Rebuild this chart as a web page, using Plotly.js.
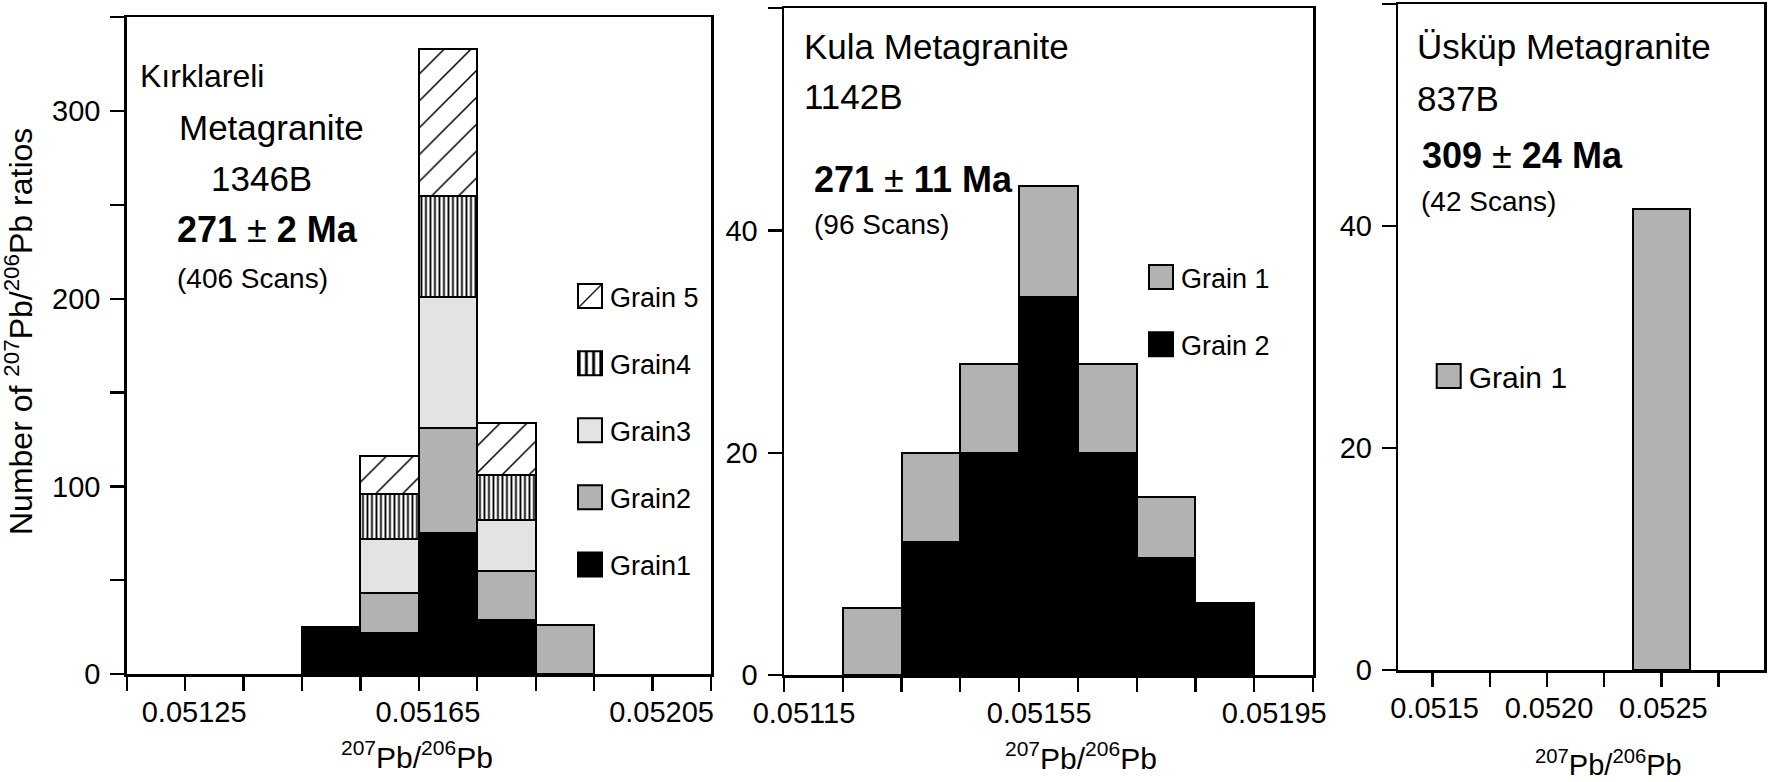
<!DOCTYPE html>
<html><head><meta charset="utf-8">
<script src="https://cdn.plot.ly/plotly-3.0.1.min.js"></script>
<style>html,body{margin:0;padding:0;background:#fff}#chart{width:1770px;height:782px}</style>
</head><body><div id="chart"></div>
<script>
// ---------------- data ----------------
// Panel 1: Kırklareli Metagranite 1346B (stacked counts per 207Pb/206Pb bin)
const p1Bins   = [0.0515, 0.0516, 0.0517, 0.0518, 0.0519];
const p1Grain1 = [25, 22, 75, 29, null];
const p1Grain2 = [null, 21, 56, 26, 26];
const p1Grain3 = [null, 29, 70, 27, null];
const p1Grain4 = [null, 24, 54, 24, null];
const p1Grain5 = [null, 20, 78, 28, null];
const p1Names  = ['Grain1', 'Grain2', 'Grain3', 'Grain4', 'Grain 5'];
const p1XTickVals = [0.05115, 0.05125, 0.05135, 0.05145, 0.05155, 0.05165, 0.05175, 0.05185, 0.05195, 0.05205, 0.05215];
const p1XTickText = ['', '0.05125', '', '', '', '0.05165', '', '', '', '0.05205', ''];
const p1YTickVals = [0, 50, 100, 150, 200, 250, 300, 350];
const p1YTickText = ['0', '', '100', '', '200', '', '300', ''];

// Panel 2: Kula Metagranite 1142B
const p2Bins   = [0.0513, 0.0514, 0.0515, 0.0516, 0.0517, 0.0518, 0.0519];
const p2Grain2 = [null, 12, 20, 34, 20, 10.5, 6.5];
const p2Grain1 = [6, 8, 8, 10, 8, 5.5, null];
const p2Names  = ['Grain 1', 'Grain 2'];
const p2XTickVals = [0.05115, 0.05125, 0.05135, 0.05145, 0.05155, 0.05165, 0.05175, 0.05185, 0.05195, 0.05205];
const p2XTickText = ['0.05115', '', '', '', '0.05155', '', '', '', '0.05195', ''];
const p2YTickVals = [0, 20, 40, 60];
const p2YTickText = ['0', '20', '40', ''];

// Panel 3: Üsküp Metagranite 837B
const p3Bins   = [0.0525];
const p3Grain1 = [41.5];
const p3Names  = ['Grain 1'];
const p3XTickVals = [0.0515, 0.05175, 0.0520, 0.05225, 0.0525, 0.05275];
const p3XTickText = ['0.0515', '', '0.0520', '', '0.0525', ''];
const p3YTickVals = [0, 20, 40, 60];
const p3YTickText = ['0', '20', '40', ''];

// ---------------- styling ----------------
const W = 1770, H = 782;
const FONT = 'Liberation Sans, Arial, sans-serif';
const GRAY = '#b2b2b2', LIGHT = '#e3e3e3', BLACK = '#000000';
const edge = {color: '#000', width: 2};

function bar(x, y, name, xa, ya, leg, rank, marker, bw) {
  return {type: 'bar', x: x, y: y, name: name, xaxis: xa, yaxis: ya, legend: leg, legendrank: rank,
          legendgroup: leg + name, width: bw, marker: Object.assign({line: edge}, marker),
          hoverinfo: 'skip'};
}
const solid = c => ({color: c});
const hatch = (shape, size, sol) => ({color: '#fff', pattern: {shape: shape, fgcolor: '#000', bgcolor: '#fff', size: size, solidity: sol, fillmode: 'replace'}});

const traces = [
  bar(p1Bins, p1Grain1, p1Names[0], 'x', 'y', 'legend', 5, solid(BLACK), 0.0001),
  bar(p1Bins, p1Grain2, p1Names[1], 'x', 'y', 'legend', 4, solid(GRAY), 0.0001),
  bar(p1Bins, p1Grain3, p1Names[2], 'x', 'y', 'legend', 3, solid(LIGHT), 0.0001),
  bar(p1Bins, p1Grain4, p1Names[3], 'x', 'y', 'legend', 2, hatch('|', 4.5, 0.4), 0.0001),
  bar(p1Bins, p1Grain5, p1Names[4], 'x', 'y', 'legend', 1, hatch('/', 19, 0.08), 0.0001),
  bar(p2Bins, p2Grain2, p2Names[1], 'x2', 'y2', 'legend2', 2, solid(BLACK), 0.0001),
  bar(p2Bins, p2Grain1, p2Names[0], 'x2', 'y2', 'legend2', 1, solid(GRAY), 0.0001),
  bar(p3Bins, p3Grain1, p3Names[0], 'x3', 'y3', 'legend3', 1, solid(GRAY), 0.00025)
];

function xAxis(l, r, range, tv, tt, anchor, shift) {
  return {domain: [l / W, r / W], range: range, anchor: anchor, tickmode: 'array', tickvals: tv, ticktext: tt,
          ticks: 'outside', ticklen: 14, tickwidth: 2.3, tickcolor: '#000', showline: true, mirror: true,
          linewidth: 2.5, linecolor: '#000', showgrid: false, zeroline: false, ticklabelstandoff: -3,
          ticklabelshift: shift, tickfont: {size: 29, family: FONT, color: '#000'}, fixedrange: true};
}
function yAxis(top, bottom, range, tv, tt, anchor) {
  return {domain: [(H - bottom) / H, (H - top) / H], range: range, anchor: anchor, tickmode: 'array', tickvals: tv, ticktext: tt,
          ticks: 'outside', ticklen: 14, tickwidth: 2.3, tickcolor: '#000', showline: true, mirror: true,
          linewidth: 2.5, linecolor: '#000', showgrid: false, zeroline: false, ticklabelstandoff: 4,
          tickfont: {size: 29, family: FONT, color: '#000'}, fixedrange: true};
}
function note(text, xpx, ymid, size, extra) {
  return Object.assign({xref: 'paper', yref: 'paper', x: xpx / W, y: 1 - ymid / H, xanchor: 'left', yanchor: 'middle',
          text: text, showarrow: false, borderpad: 0, font: {size: size, family: FONT, color: '#000'}}, extra || {});
}
const PB = '<sup>207</sup>Pb/<sup>206</sup>Pb';

const layout = {
  width: W, height: H, margin: {l: 0, r: 0, t: 0, b: 0},
  paper_bgcolor: '#fff', plot_bgcolor: 'rgba(0,0,0,0)',
  barmode: 'stack', bargap: 0, showlegend: true,
  font: {family: FONT, color: '#000', size: 29},
  xaxis:  xAxis(126.7, 711, [0.05115, 0.05215], p1XTickVals, p1XTickText, 'y', 9),
  yaxis:  yAxis(17.3, 674, [0, 350], p1YTickVals, p1YTickText, 'x'),
  xaxis2: xAxis(784, 1313, [0.05115, 0.05205], p2XTickVals, p2XTickText, 'y2', 20),
  yaxis2: yAxis(8.3, 675, [0, 60], p2YTickVals, p2YTickText, 'x2'),
  xaxis3: xAxis(1398.3, 1764.3, [0.05135, 0.05295], p3XTickVals, p3XTickText, 'y3', 2),
  yaxis3: yAxis(4, 670, [0, 60], p3YTickVals, p3YTickText, 'x3'),
  legend:  {x: 570 / W, y: 1 - 272 / H, xanchor: 'left', yanchor: 'top', bgcolor: 'rgba(0,0,0,0)', borderwidth: 0,
            font: {size: 27, family: FONT, color: '#000'}, traceorder: 'grouped', tracegroupgap: 29},
  legend2: {x: 1141 / W, y: 1 - 253 / H, xanchor: 'left', yanchor: 'top', bgcolor: 'rgba(0,0,0,0)', borderwidth: 0,
            font: {size: 27, family: FONT, color: '#000'}, traceorder: 'grouped', tracegroupgap: 29},
  legend3: {x: 1428.7 / W, y: 1 - 350 / H, xanchor: 'left', yanchor: 'top', bgcolor: 'rgba(0,0,0,0)', borderwidth: 0,
            font: {size: 30, family: FONT, color: '#000'}},
  annotations: [
    note('Kırklareli', 139, 76.3, 32),
    note('Metagranite', 178, 127.5, 35),
    note('1346B', 210, 178, 35),
    note('<b>271</b> ± <b>2 Ma</b>', 176, 229, 36),
    note('(406 Scans)', 176, 278, 28),
    note('Kula Metagranite', 803, 46.3, 35),
    note('1142B', 803, 96, 35),
    note('<b>271</b> ± <b>11 Ma</b>', 813, 180, 36),
    note('(96 Scans)', 813, 224, 28),
    note('Üsküp Metagranite', 1416, 46.7, 35),
    note('837B', 1416, 98.3, 35),
    note('<b>309</b> ± <b>24 Ma</b>', 1421, 155.8, 36),
    note('(42 Scans)', 1420, 201.7, 28),
    note('Number of ' + PB + ' ratios', 19, 332, 32, {textangle: -90, xanchor: 'center'}),
    note(PB, 417, 755, 30, {xanchor: 'center'}),
    note(PB, 1081, 756, 30, {xanchor: 'center'}),
    note(PB, 1608, 763, 29, {xanchor: 'center'})
  ]
};

Plotly.newPlot('chart', traces, layout, {staticPlot: true, displayModeBar: false}).then(function (gd) {
  gd.querySelectorAll('.legendpoints path').forEach(function (p) {
    var t = p.getAttribute('transform') || '';
    p.setAttribute('transform', t + ' scale(2)');
    p.style.strokeWidth = '1px';
  });
});
</script>
</body></html>
